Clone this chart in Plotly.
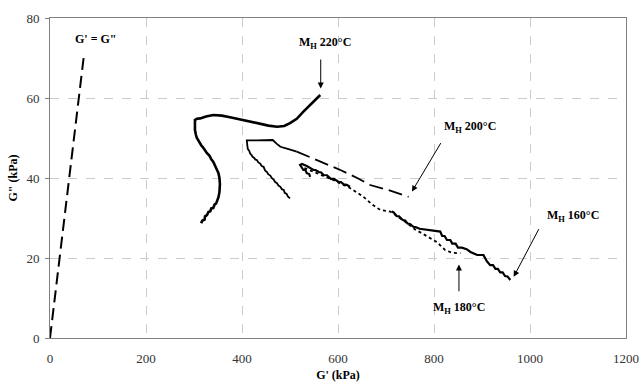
import plotly.graph_objects as go

# ---- data (G' kPa, G'' kPa) ----
geq_x = [0, 70]
geq_y = [0, 70]

mh220_x = [315, 317, 322, 323, 327, 330, 334, 336, 340, 343, 346, 349, 351, 353, 354, 353, 351, 348, 346, 343,
           340, 336, 332, 327, 323, 319, 315, 312, 309, 306, 304, 302, 302, 306,
           313, 325, 340, 358, 375, 400, 431, 455, 473, 488, 500, 514, 528, 545, 563]
mh220_y = [28.7, 29.3, 29.6, 30.4, 30.7, 31.5, 31.7, 32.4, 32.5, 33.4, 33.6, 34.5, 35.2, 36.5, 38.5, 40.0, 41.2,
           42.0, 42.6, 43.4, 44.1, 44.7, 45.6, 46.2, 47.0, 47.6, 48.2, 48.9, 49.2, 50.0, 50.8,
           52.0, 54.5, 54.8, 54.9, 55.4, 55.75, 55.6, 55.2, 54.5, 53.7, 53.1, 52.8, 53.0, 53.7, 54.8, 56.6, 58.5, 60.75]

mh200_solid_x = [500, 496, 493, 489, 487, 483, 480, 476, 473, 469, 466, 462, 459, 455, 452, 448, 445, 441, 438,
                 434, 431, 428, 425, 422, 420, 417, 415, 412, 411, 410, 410, 430, 450,
                 464, 472, 480, 497, 514]
mh200_solid_y = [34.9, 35.3, 36.0, 36.3, 37.0, 37.2, 37.8, 38.1, 38.7, 39.0, 39.6, 40.0, 40.6, 40.9, 41.5, 41.9,
                 42.8, 43.0, 43.6, 43.9, 44.5, 44.6, 45.1, 45.3, 45.75, 46.1, 46.8, 47.3, 48.25, 49.3,
                 49.4, 49.4, 49.5, 49.5, 48.6, 47.8, 47.2, 46.6]
mh200_dash_x = [514, 556, 605, 640, 667, 705, 747]
mh200_dash_y = [46.6, 44.5, 42.0, 40.0, 38.25, 37.0, 35.3]

mh160_x = [542, 540, 535, 532, 528, 521, 525, 535, 549, 553, 560, 565, 570, 577, 585, 592, 601, 606, 612, 618,
           625, None, 712, 716, 722, 727, 735, 740, 745, 750, 757, 763, 770, 777,
           785, 800, 813, 817, 822, 827, 834, 838, 845, 850, 858, 868, 876, 890, 903, 910, 917, 923, 928, 933,
           938, 943, 948, 953, 959]
mh160_y = [40.3, 41.0, 41.2, 42.0, 42.0, 43.25, 43.5, 43.0, 42.0, 42.0, 41.5, 41.4, 40.75, 40.7, 39.8, 39.8, 39.0,
           39.0, 38.4, 38.3, 37.8, None, 31.6, 31.4, 30.5, 30.4, 29.5, 29.4, 28.6, 28.5, 27.8, 27.7, 27.3, 27.2,
           27.0, 26.8, 26.6, 25.5, 25.5, 24.5, 24.5, 23.6, 23.6, 22.6, 22.6, 22.2, 21.5, 20.75, 20.75, 19.2, 18.2,
           18.2, 17.3, 17.3, 16.4, 16.4, 15.5, 15.4, 14.5]

mh180_x = [530, 560, 590, 625, 653, 670, 688, 709, 735, 760, 785, 806, 823, 838, 855]
mh180_y = [42.5, 41.0, 39.5, 37.5, 35.3, 33.5, 32.0, 31.6, 29.5, 27.2, 25.5, 24.0, 22.0, 21.3, 21.2]

x_ticks = [0, 200, 400, 600, 800, 1000, 1200]
y_ticks = [0, 20, 40, 60, 80]

# labels: (text, text x, text y, arrow tail x, tail y, head x, head y)
labels = [
    ("G' = G\"", 96, 74.8, None, None, None, None),
    ("M<sub>H</sub> 220°C", 573, 73.8, 564, 70.0, 564, 62.4),
    ("M<sub>H</sub> 200°C", 875, 52.8, 816, 49.1, 754, 36.6),
    ("M<sub>H</sub> 160°C", 1089, 30.5, 1020, 27.6, 966, 15.3),
    ("M<sub>H</sub> 180°C", 853, 7.4, 852, 11.3, 852, 18.4),
]

FONT = "Liberation Serif, Times New Roman, serif"

fig = go.Figure()
fig.add_trace(go.Scatter(x=geq_x, y=geq_y, mode="lines",
                         line=dict(color="black", width=2, dash="12px,6px")))
fig.add_trace(go.Scatter(x=mh220_x, y=mh220_y, mode="lines",
                         line=dict(color="black", width=2.6)))
fig.add_trace(go.Scatter(x=mh200_solid_x, y=mh200_solid_y, mode="lines",
                         line=dict(color="black", width=1.8)))
fig.add_trace(go.Scatter(x=mh200_dash_x, y=mh200_dash_y, mode="lines",
                         line=dict(color="black", width=1.8, dash="14px,6px")))
fig.add_trace(go.Scatter(x=mh180_x, y=mh180_y, mode="lines",
                         line=dict(color="black", width=1.8, dash="3px,3px")))
fig.add_trace(go.Scatter(x=mh160_x, y=mh160_y, mode="lines", connectgaps=False,
                         line=dict(color="black", width=2.2)))

annotations = []
for text, tx, ty, ax_, ay_, hx, hy in labels:
    annotations.append(dict(x=tx, y=ty, xref="x", yref="y", text="<b>%s</b>" % text,
                            showarrow=False, font=dict(family=FONT, size=12, color="black")))
    if ax_ is not None:
        annotations.append(dict(x=hx, y=hy, ax=ax_, ay=ay_, xref="x", yref="y", axref="x", ayref="y",
                                text="", showarrow=True, arrowhead=2, arrowsize=1.2, arrowwidth=1,
                                arrowcolor="black"))

fig.update_layout(
    width=640, height=384,
    margin=dict(l=50, r=14, t=18, b=46),
    paper_bgcolor="white", plot_bgcolor="white",
    showlegend=False,
    font=dict(family=FONT, size=13, color="#333"),
    annotations=annotations,
)
fig.update_xaxes(range=[0, 1200], tickvals=x_ticks, ticktext=[str(v) for v in x_ticks],
                 automargin=False,
                 showgrid=True, gridcolor="#cccccc", griddash="dash", gridwidth=1,
                 showline=True, linecolor="#808080", linewidth=1, mirror=True,
                 zeroline=False, ticks="", ticklabelstandoff=8,
                 tickfont=dict(family=FONT, size=13, color="#333"),
                 title=dict(text="<b>G' (kPa)</b>", font=dict(family=FONT, size=12, color="black"), standoff=6))
fig.update_yaxes(range=[0, 80], tickvals=y_ticks, ticktext=[str(v) for v in y_ticks],
                 automargin=False,
                 showgrid=True, gridcolor="#cccccc", griddash="dash", gridwidth=1,
                 showline=True, linecolor="#808080", linewidth=1, mirror=True,
                 zeroline=False, ticks="outside", ticklen=4, tickcolor="#808080", ticklabelstandoff=3,
                 tickfont=dict(family=FONT, size=13, color="#333"),
                 title=dict(text="<b>G\" (kPa)</b>", font=dict(family=FONT, size=12, color="black"), standoff=6))

fig.write_html("out.html")
